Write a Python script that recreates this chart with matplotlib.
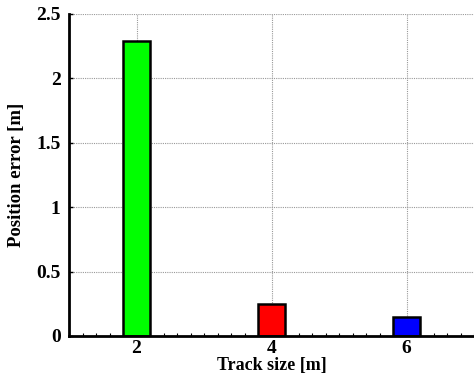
import matplotlib
matplotlib.use("Agg")
import matplotlib.pyplot as plt
from matplotlib.ticker import MultipleLocator

track_sizes = [2, 4, 6]
position_errors = [2.29, 0.248, 0.147]
bar_colors = ["#00ff00", "#ff0000", "#0000ff"]
y_ticks = [0, 0.5, 1, 1.5, 2, 2.5]
y_tick_labels = ["0", "0.5", "1", "1.5", "2", "2.5"]

plt.rcParams['font.family'] = ['Liberation Serif', 'DejaVu Serif']
plt.rcParams['font.weight'] = 'bold'

fig = plt.figure(figsize=(4.74, 3.83), dpi=100)
ax = fig.add_axes([69/474, 47/383, 1 - 69/474, (336-14)/383])

ax.bar(track_sizes, position_errors, width=0.4, color=bar_colors,
       edgecolor='black', linewidth=1.8, zorder=3)

ax.set_xlim(1, 7)
ax.set_ylim(0, 2.5)
ax.set_xticks(track_sizes)
ax.set_xticklabels([str(t) for t in track_sizes], fontsize=14, fontweight='bold')
ax.set_yticks(y_ticks)
ax.set_yticklabels(y_tick_labels, fontsize=14, fontweight='bold')
ax.xaxis.set_minor_locator(MultipleLocator(0.2))
ax.tick_params(axis='both', which='major', direction='in', length=3, width=1, pad=6)
ax.tick_params(axis='x', which='major', pad=3)
ax.tick_params(axis='x', which='minor', direction='in', length=2, width=0.8)

ax.grid(True, which='major', linestyle=(0, (1, 1)), color='#999999', linewidth=0.8, zorder=0)
ax.set_axisbelow(True)

for s in ['top', 'right']:
    ax.spines[s].set_visible(False)
for s in ['left', 'bottom']:
    ax.spines[s].set_linewidth(2)
    ax.spines[s].set_zorder(4)

ax.set_xlabel("Track size [m]", fontsize=13, fontweight='bold', labelpad=0)
ax.set_ylabel("Position error [m]", fontsize=13.5, fontweight='bold', labelpad=8)

fig.savefig("out.png", dpi=100)
